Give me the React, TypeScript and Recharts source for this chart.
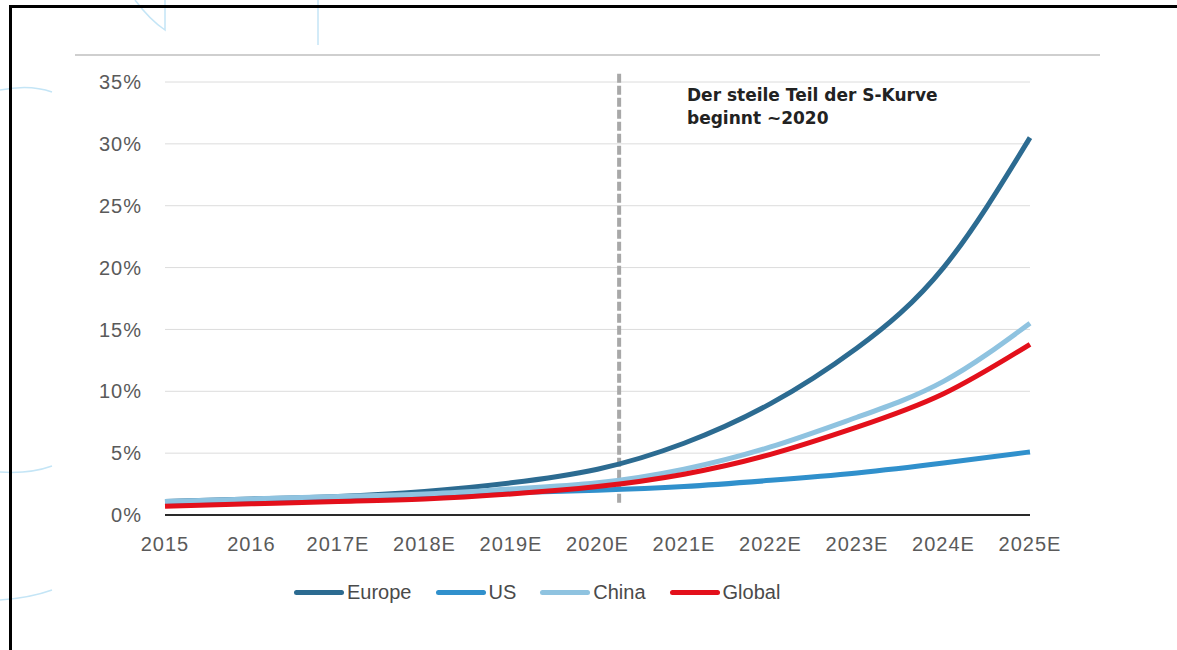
import React from 'react'
import {
  LineChart,
  Line,
  XAxis,
  YAxis,
  CartesianGrid,
  ReferenceLine,
} from 'recharts'

const categories = ['2015', '2016', '2017E', '2018E', '2019E', '2020E', '2021E', '2022E', '2023E', '2024E', '2025E']
const europe = [1.1, 1.3, 1.5, 1.9, 2.6, 3.7, 5.8, 9.0, 13.5, 20.0, 30.5]
const us = [1.0, 1.2, 1.4, 1.6, 1.8, 2.0, 2.3, 2.8, 3.4, 4.2, 5.1]
const china = [1.1, 1.3, 1.5, 1.7, 2.1, 2.6, 3.7, 5.5, 7.9, 10.8, 15.5]
const global = [0.7, 0.9, 1.1, 1.3, 1.7, 2.3, 3.3, 4.9, 7.1, 9.8, 13.8]
const yTicks = [0, 5, 10, 15, 20, 25, 30, 35]
const turnPoint = 5.25 // a bit after 2020E

const series = [
  { key: 'europe', label: 'Europe', color: '#2c6b91' },
  { key: 'us', label: 'US', color: '#3090cc' },
  { key: 'china', label: 'China', color: '#8fc3e0' },
  { key: 'global', label: 'Global', color: '#e3101b' },
]

const data = categories.map((c, i) => ({
  idx: i,
  europe: europe[i],
  us: us[i],
  china: china[i],
  global: global[i],
}))

const tickFont = { fontFamily: 'Liberation Sans', fontSize: 20, fill: '#5a5a5a', letterSpacing: 1 }

function LegendRow() {
  return (
    <div style={{ display: 'flex', alignItems: 'center', gap: 24, fontFamily: 'Liberation Sans', fontSize: 20, color: '#4a4a4a' }}>
      {series.map(s => (
        <div key={s.key} style={{ display: 'flex', alignItems: 'center', gap: 3 }}>
          <div style={{ width: 50, height: 5, borderRadius: 3, backgroundColor: s.color }} />
          <span>{s.label}</span>
        </div>
      ))}
    </div>
  )
}

export default function App() {
  return (
    <div style={{ position: 'absolute', top: 0, left: 0, width: 1177, height: 650, background: '#fff', overflow: 'hidden' }}>
      {/* background decoration */}
      <svg width={1177} height={650} style={{ position: 'absolute', top: 0, left: 0 }}>
        <g fill="none" stroke="#c4e5f6" strokeWidth={1.5}>
          <path d="M135 0 Q150 20 165 30 L165 0" />
          <path d="M318 0 L318 45" />
          <path d="M0 90 Q30 84 52 92" />
          <path d="M0 472 Q30 474 52 466" />
          <path d="M0 600 Q30 598 52 590" />
        </g>
      </svg>
      {/* frame */}
      <div style={{ position: 'absolute', top: 5, left: 9, right: 0, bottom: 0, borderTop: '3px solid #000', borderLeft: '3px solid #000' }} />
      <div style={{ position: 'absolute', top: 54, left: 75, width: 1025, height: 2, background: '#cfcfcf' }} />

      <div style={{ position: 'absolute', top: 0, left: 0 }}>
        <LineChart width={1177} height={650} data={data} margin={{ top: 82, right: 147, bottom: 105, left: 105 }}>
          <CartesianGrid vertical={false} stroke="#dcdcdc" strokeWidth={1} />
          <XAxis
            dataKey="idx"
            type="number"
            height={30}
            domain={[0, 10]}
            ticks={categories.map((_, i) => i)}
            tickFormatter={(v) => categories[v]}
            interval={0}
            tick={tickFont}
            tickLine={false}
            tickSize={0}
            tickMargin={22}
            axisLine={{ stroke: '#2a2a2a', strokeWidth: 2 }}
          />
          <YAxis
            width={60}
            domain={[0, 35]}
            ticks={yTicks}
            tickFormatter={(v) => `${v}%`}
            tick={tickFont}
            tickLine={false}
            tickSize={0}
            tickMargin={23}
            axisLine={false}
          />
          <ReferenceLine
            segment={[{ x: turnPoint, y: 1.0 }, { x: turnPoint, y: 35.8 }]}
            stroke="#a8a8a8"
            strokeWidth={4}
            strokeDasharray="9 3"
            ifOverflow="visible"
          />
          {series.map(s => (
            <Line
              key={s.key}
              type="natural"
              dataKey={s.key}
              name={s.label}
              stroke={s.color}
              strokeWidth={5}
              dot={false}
              activeDot={false}
              isAnimationActive={false}
            />
          ))}
        </LineChart>
      </div>

      <div style={{ position: 'absolute', top: 581, left: 294 }}>
        <LegendRow />
      </div>

      <div style={{ position: 'absolute', left: 687, top: 84, fontFamily: 'DejaVu Sans', fontWeight: 'bold', fontSize: 17, lineHeight: '23px', color: '#222' }}>
        Der steile Teil der S-Kurve<br />beginnt ~2020
      </div>
    </div>
  )
}
